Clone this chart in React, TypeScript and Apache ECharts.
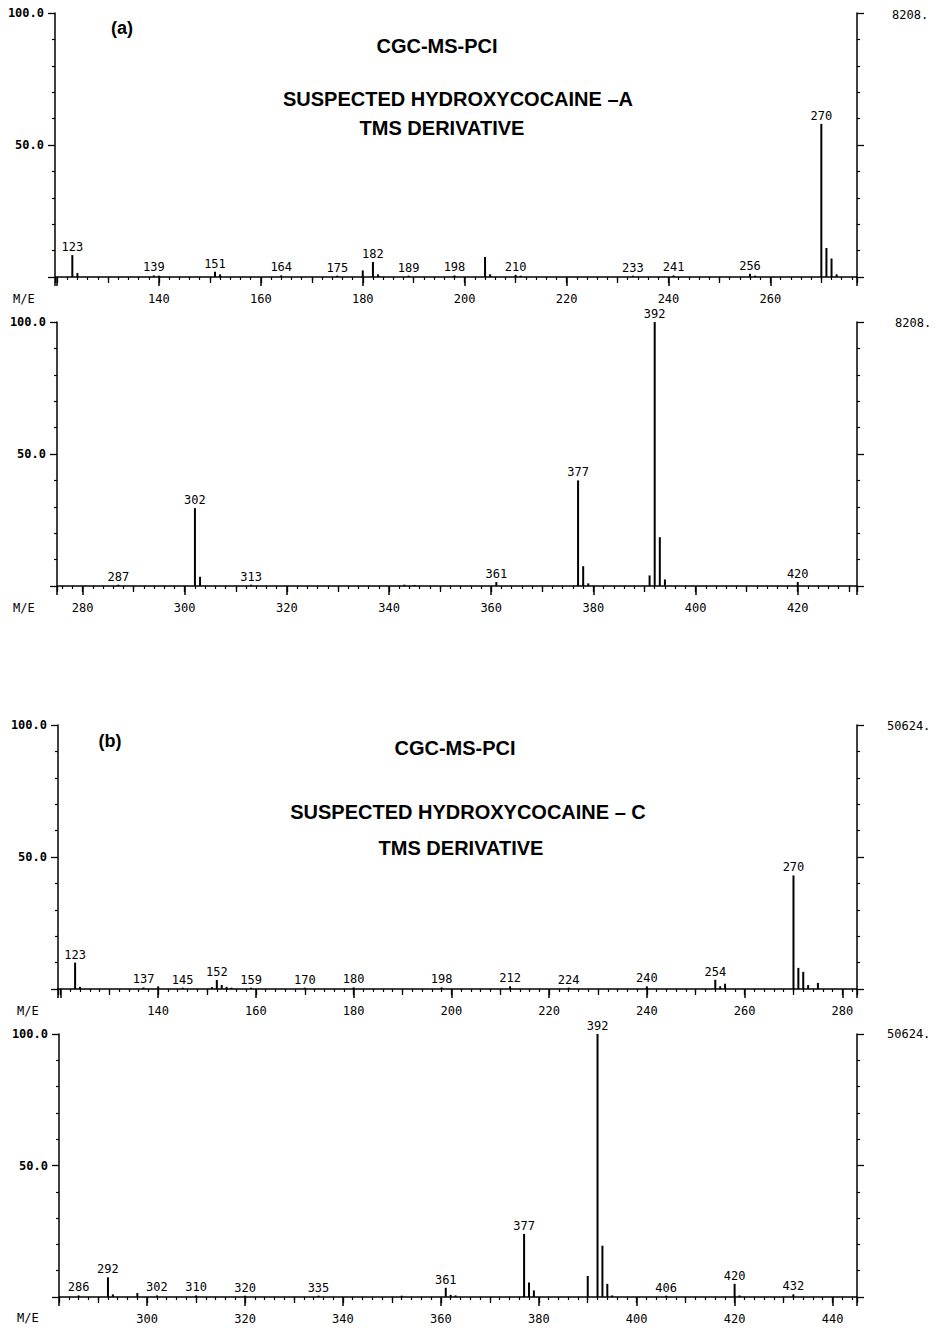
import React, { useEffect, useRef } from "react";
import * as echarts from "echarts";

// Panel (a) low-mass spectrum
const mzA1 = [123, 124, 139, 140, 151, 152, 164, 175, 180, 182, 183, 189, 198, 204, 205, 210, 211, 233, 241, 256, 257, 270, 271, 272, 273];
const intA1 = [8.3, 1.5, 0.6, 0.5, 2.0, 1.0, 0.6, 0.5, 2.5, 5.7, 1.0, 0.5, 0.6, 7.6, 1.0, 0.8, 0.5, 0.5, 0.6, 1.2, 0.5, 58, 11, 7, 1];
const labA1 = [123, 139, 151, 164, 175, 182, 189, 198, 210, 233, 241, 256, 270];

// Panel (a) high-mass spectrum
const mzA2 = [287, 302, 303, 313, 343, 345, 361, 377, 378, 379, 391, 392, 393, 394, 420];
const intA2 = [0.5, 29.5, 3.5, 0.5, 0.5, 0.4, 1.5, 40, 7.5, 1, 4, 100, 18.5, 2.5, 1.5];
const labA2 = [287, 302, 313, 361, 377, 392, 420];

// Panel (b) low-mass spectrum
const mzB1 = [123, 124, 137, 140, 145, 151, 152, 153, 154, 155, 159, 170, 180, 198, 212, 224, 240, 254, 255, 256, 270, 271, 272, 273, 275];
const intB1 = [10, 0.8, 0.6, 1.0, 0.5, 0.7, 3.4, 1.5, 0.8, 0.5, 0.5, 0.5, 0.6, 0.6, 1.0, 0.5, 1.0, 3.5, 1.0, 2.0, 43, 8, 6.5, 1.5, 2.3];
const labB1 = [123, 137, 145, 152, 159, 170, 180, 198, 212, 224, 240, 254, 270];

// Panel (b) high-mass spectrum
const mzB2 = [286, 292, 293, 298, 302, 310, 320, 335, 352, 361, 362, 363, 377, 378, 379, 390, 392, 393, 394, 395, 406, 420, 421, 432];
const intB2 = [0.6, 7.5, 1.0, 1.5, 0.6, 0.6, 0.5, 0.5, 0.5, 3.5, 0.8, 0.6, 24, 5.5, 2.5, 8, 100, 19.5, 5, 0.6, 0.5, 5, 0.6, 1.0];
const labB2 = [286, 292, 302, 310, 320, 335, 361, 377, 392, 406, 420, 432];

const xRanges = [
  [119.6, 277],
  [275, 431.6],
  [119.5, 283],
  [282, 445],
];
const fullScale = ["8208.", "8208.", "50624.", "50624."];
const yTickLabels = { 100: "100.0", 50: "50.0" } as Record<number, string>;

const panels = [
  { mz: mzA1, int: intA1, lab: labA1 },
  { mz: mzA2, int: intA2, lab: labA2 },
  { mz: mzB1, int: intB1, lab: labB1 },
  { mz: mzB2, int: intB2, lab: labB2 },
];

const layout = [
  { left: 55, top: 13, height: 264, scaleX: 892, scaleY: 15, meY: 299 },
  { left: 57, top: 322, height: 264, scaleX: 895, scaleY: 323, meY: 608 },
  { left: 58, top: 725, height: 264, scaleX: 887, scaleY: 726, meY: 1011 },
  { left: 59, top: 1034, height: 263, scaleX: 887, scaleY: 1034, meY: 1318 },
];
const RIGHT_EDGE = 857;
const MONO = "DejaVu Sans Mono";
const SANS = "Liberation Sans";

export default function App() {
  const ref = useRef<HTMLDivElement>(null);
  useEffect(() => {
    if (!ref.current) return;
    const chart = echarts.init(ref.current, undefined, { renderer: "svg" });

    const grid: any[] = [];
    const xAxis: any[] = [];
    const yAxis: any[] = [];
    const series: any[] = [];

    panels.forEach((p, i) => {
      const L = layout[i];
      grid.push({ left: L.left, top: L.top, height: L.height, width: RIGHT_EDGE - L.left });
      const [mn, mx] = xRanges[i];
      xAxis.push({
        type: "value",
        gridIndex: i,
        position: "bottom",
        min: mn,
        max: mx,
        minInterval: 20,
        maxInterval: 20,
        splitLine: { show: false },
        axisLine: { show: true, onZero: false, lineStyle: { color: "#000", width: 1.5 } },
        axisTick: { show: true, length: 9, lineStyle: { color: "#000", width: 1.5 } },
        minorTick: { show: true, splitNumber: 10, length: 3, lineStyle: { color: "#000", width: 1.2 } },
        axisLabel: {
          show: true,
          margin: 16,
          showMinLabel: false,
          showMaxLabel: false,
          color: "#000",
          fontFamily: MONO,
          fontSize: 12,
          formatter: (v: number) => (Math.abs(v % 20) < 1e-6 && v > mn + 2 ? String(v) : ""),
        },
      });
      xAxis.push({
        type: "value",
        gridIndex: i,
        position: "bottom",
        min: mn,
        max: mx,
        minInterval: 10,
        maxInterval: 10,
        splitLine: { show: false },
        axisLine: { show: false, onZero: false },
        axisTick: { show: true, length: 6, lineStyle: { color: "#000", width: 1.3 } },
        axisLabel: { show: false },
      });
      const yCommon = {
        type: "value",
        gridIndex: i,
        min: 0,
        max: 100,
        interval: 50,
        splitLine: { show: false },
        axisLine: { show: true, lineStyle: { color: "#000", width: 1.5 } },
        axisTick: { show: true, length: 7, lineStyle: { color: "#000", width: 1.3 } },
        minorTick: { show: true, splitNumber: 5, length: 3, lineStyle: { color: "#000", width: 1.2 } },
      };
      yAxis.push({
        ...yCommon,
        position: "left",
        axisLabel: {
          show: true,
          margin: 11,
          color: "#000",
          fontFamily: MONO,
          fontSize: 12,
          fontWeight: "bold",
          formatter: (v: number) => yTickLabels[v] || "",
        },
      });
      yAxis.push({
        ...yCommon,
        position: "right",
        axisLabel: { show: false },
      });
      series.push({
        type: "bar",
        xAxisIndex: 2 * i,
        yAxisIndex: 2 * i,
        barWidth: 2,
        itemStyle: { color: "#000" },
        label: {
          show: false,
          position: "top",
          distance: 2,
          color: "#000",
          fontFamily: MONO,
          fontSize: 12,
          formatter: (q: any) => String(q.value[0]),
        },
        data: p.mz.map((m, j) => ({ value: [m, p.int[j]], label: { show: p.lab.includes(m) } })),
      });
    });

    const titleStyle = (text: string, x: number, y: number, size = 20) => ({
      type: "text",
      x,
      y,
      style: {
        text,
        fill: "#000",
        font: `bold ${size}px "${SANS}"`,
        align: "center",
        verticalAlign: "middle",
      },
    });
    const monoText = (text: string, x: number, y: number) => ({
      type: "text",
      x,
      y,
      style: { text, fill: "#000", font: `12px "${MONO}"`, align: "left", verticalAlign: "middle" },
    });

    const graphic: any[] = [
      titleStyle("(a)", 122, 28, 18),
      titleStyle("CGC-MS-PCI", 437, 46),
      titleStyle("SUSPECTED HYDROXYCOCAINE –A", 458, 99),
      titleStyle("TMS DERIVATIVE", 442, 128),
      titleStyle("(b)", 110, 741, 18),
      titleStyle("CGC-MS-PCI", 455, 748),
      titleStyle("SUSPECTED HYDROXYCOCAINE – C", 468, 812),
      titleStyle("TMS DERIVATIVE", 461, 848),
    ];
    layout.forEach((L, i) => {
      graphic.push(monoText(fullScale[i], L.scaleX, L.scaleY));
      graphic.push(monoText("M/E", i < 2 ? 13 : 17, L.meY));
    });

    chart.setOption({
      animation: false,
      backgroundColor: "#fff",
      grid,
      xAxis,
      yAxis,
      series,
      graphic,
    });
    return () => chart.dispose();
  }, []);

  return (
    <div
      ref={ref}
      style={{ position: "absolute", left: 0, top: 0, width: 936, height: 1330, background: "#fff" }}
    />
  );
}
